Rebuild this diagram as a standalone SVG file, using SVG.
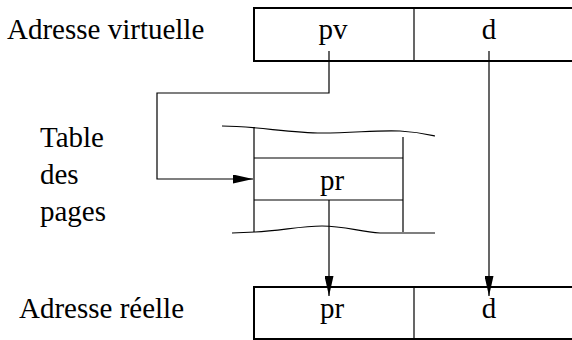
<svg xmlns="http://www.w3.org/2000/svg" width="572" height="340" viewBox="0 0 572 340">
<style>
text{font-family:'Liberation Serif','DejaVu Serif',serif;font-size:29px;fill:#000}
.c{text-anchor:middle}
.box{fill:none;stroke:#000;stroke-width:2}
.ln{fill:none;stroke:#000;stroke-width:1.2}
</style>
<defs>
<marker id="ah" markerWidth="20" markerHeight="9" refX="20" refY="4.5" orient="auto" markerUnits="userSpaceOnUse">
<path d="M0,0 L20,4.5 L0,9 Z" fill="#000"/>
</marker>
</defs>
<g id="virtuelle">
<text x="7" y="39" font-family="Liberation Serif, DejaVu Serif, serif">Adresse virtuelle</text>
<rect class="box" x="254" y="8" width="330" height="53"/>
<line class="ln" x1="414" y1="8" x2="414" y2="61"/>
<text class="c" x="333" y="39">pv</text>
<text class="c" x="489" y="39">d</text>
</g>
<g id="table">
<text x="40" y="147">Table</text>
<text x="40" y="184">des</text>
<text x="40" y="221">pages</text>
<path class="ln" d="M222,126 C255,126 290,133 322,133 C355,133 375,130 400,131 C418,132 426,134 435,136"/>
<path class="ln" d="M232,233 L255,232 C280,231 300,226 322,226 C345,226 360,232 380,233 L435,233"/>
<line class="ln" x1="254" y1="127" x2="254" y2="232"/>
<line class="ln" x1="403" y1="137" x2="403" y2="232"/>
<line class="ln" x1="254" y1="158" x2="403" y2="158"/>
<line class="ln" x1="254" y1="200" x2="403" y2="200"/>
<text class="c" x="332" y="190">pr</text>
</g>
<g id="reelle">
<text x="19" y="318">Adresse réelle</text>
<rect class="box" x="254" y="287" width="330" height="52"/>
<line class="ln" x1="414" y1="287" x2="414" y2="339"/>
<text class="c" x="332" y="318">pr</text>
<text class="c" x="489" y="318">d</text>
</g>
<g id="connectors">
<path class="ln" d="M329,51 L329,93 L157,93 L157,179 L253,179" marker-end="url(#ah)"/>
<path class="ln" d="M329,200 L329,296" marker-end="url(#ah)"/>
<path class="ln" d="M489,51 L489,296" marker-end="url(#ah)"/>
</g>
</svg>
